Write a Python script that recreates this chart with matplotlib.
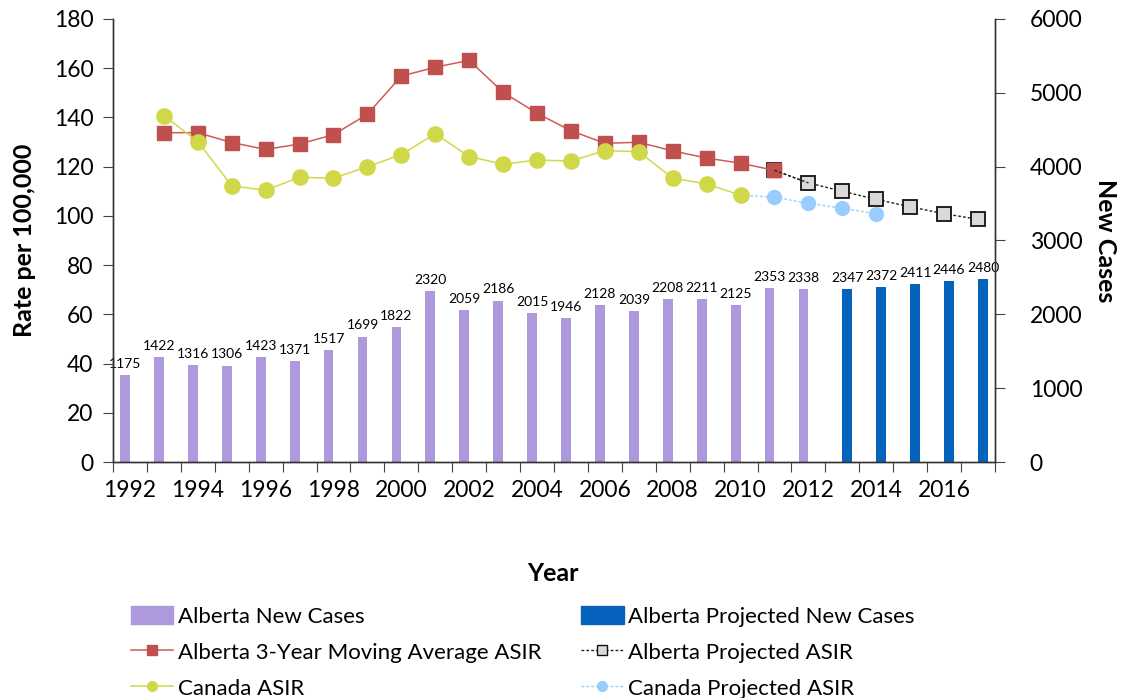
import numpy as np
import matplotlib.pyplot as plt
from matplotlib.lines import Line2D
from matplotlib.patches import Patch

plt.rcParams['font.family'] = ['Lato', 'DejaVu Sans']

years = list(range(1992, 2018))

# new cases (bars)
ab_new_years = list(range(1992, 2013))
ab_new = [1175, 1422, 1316, 1306, 1423, 1371, 1517, 1699, 1822, 2320, 2059,
          2186, 2015, 1946, 2128, 2039, 2208, 2211, 2125, 2353, 2338]
ab_proj_new_years = list(range(2013, 2018))
ab_proj_new = [2347, 2372, 2411, 2446, 2480]

# ASIR lines
ab_ma_years = list(range(1993, 2012))
ab_ma = [133.8, 133.8, 129.8, 127.0, 129.2, 133.0, 141.3, 156.8, 160.4, 163.2,
         150.2, 141.7, 134.6, 129.5, 129.9, 126.4, 123.5, 121.4, 118.5]
ab_proj_years = list(range(2011, 2018))
ab_proj = [118.5, 113.4, 110.0, 106.7, 103.7, 100.9, 98.6]

ca_years = list(range(1993, 2011))
ca_asir = [140.7, 130.2, 112.2, 110.4, 115.7, 115.3, 120.0, 124.9, 133.4,
           124.1, 121.0, 122.7, 122.3, 126.5, 126.1, 115.3, 113.0, 108.4]
ca_proj_years = list(range(2010, 2015))
ca_proj = [108.4, 107.6, 105.1, 103.1, 100.9]

c_purple = '#AD99DB'
c_blue = '#0563BE'
c_red = '#C0504D'
c_yellow = '#D0D84A'
c_lblue = '#99CCFF'
dash = (0, (2, 1.5))

def xpos(yrs):
    return np.array(yrs) - 1992

fig = plt.figure(figsize=(11.21, 6.98), dpi=100)
ax = fig.add_axes([0.1008, 0.3381, 0.7868, 0.6347])
ax2 = ax.twinx()

bw = 0.29
ax2.bar(xpos(ab_new_years) - bw / 2, ab_new, width=bw, color=c_purple, zorder=1)
ax2.bar(xpos(ab_proj_new_years) + bw / 2, ab_proj_new, width=bw, color=c_blue, zorder=1)
for x, v in zip(xpos(ab_new_years) - bw / 2, ab_new):
    ax2.text(x, v + 70, str(v), ha='center', va='bottom', fontsize=10)
for x, v in zip(xpos(ab_proj_new_years) + bw / 2, ab_proj_new):
    ax2.text(x, v + 70, str(v), ha='center', va='bottom', fontsize=10)

ax2.set_ylim(0, 6000)
ax2.set_yticks(range(0, 6001, 1000))

# lines go on the left axis, drawn above the bars
ax.set_zorder(ax2.get_zorder() + 1)
ax.patch.set_visible(False)

ax.plot(xpos(ab_proj_years), ab_proj, color='#222222', lw=1, ls=dash,
        marker='s', ms=10, mfc='#D9D9D9', mec='#111111', mew=1.3)
ax.plot(xpos(ca_proj_years), ca_proj, color=c_lblue, lw=1, ls=dash,
        marker='o', ms=10, mfc=c_lblue, mec=c_lblue,
        markevery=list(range(1, len(ca_proj))))
ax.plot(xpos(ab_ma_years), ab_ma, color='#D05A5A', lw=1.1,
        marker='s', ms=10, mfc=c_red, mec=c_red)
ax.plot(xpos(ca_years), ca_asir, color=c_yellow, lw=1.1,
        marker='o', ms=11, mfc=c_yellow, mec=c_yellow)
# keep the last Alberta marker on top of the projected line
ax.plot(xpos(ab_ma_years[-1:]), ab_ma[-1:], ls='none', marker='s', ms=10,
        mfc=c_red, mec=c_red)
ax.plot(xpos(ab_proj_years[:2]), ab_proj[:2], color='#222222', lw=1, ls=dash)

ax.set_ylim(0, 180)
ax.set_yticks(range(0, 181, 20))
ax.set_xlim(-0.5, 25.5)

# ticks at category boundaries, labels every two years
ax.set_xticks(np.arange(-0.5, 26, 1))
ax.set_xticklabels([])
ax.set_xticks(xpos(years[::2]), minor=True)
ax.set_xticklabels([str(y) for y in years[::2]], minor=True, fontsize=16.5)
ax.tick_params(axis='x', which='major', length=7, direction='out', color='#444444')
ax.tick_params(axis='x', which='minor', length=0, pad=13)
ax.tick_params(axis='y', length=7, labelsize=16.5, color='#444444', pad=7)
ax2.tick_params(axis='y', length=7, labelsize=16.5, color='#444444', pad=18)

for a in (ax, ax2):
    a.spines['top'].set_visible(False)
    for s in ('left', 'right', 'bottom'):
        a.spines[s].set_color('#333333')
        a.spines[s].set_linewidth(1)

fig.text(0.022, 0.6555, 'Rate per 100,000', rotation=90, ha='center', va='center',
         fontsize=18, fontweight='bold')
fig.text(0.986, 0.6555, 'New Cases', rotation=270, ha='center', va='center',
         fontsize=18, fontweight='bold')
fig.text(0.493, 0.179, 'Year', ha='center', va='center', fontsize=18, fontweight='bold')

# legend handles with smaller markers, like the original
handles = [
    Patch(color=c_purple),
    Line2D([], [], color='#D05A5A', lw=1.1, marker='s', ms=7, mfc=c_red, mec=c_red),
    Line2D([], [], color=c_yellow, lw=1.1, marker='o', ms=7, mfc=c_yellow, mec=c_yellow),
    Patch(color=c_blue),
    Line2D([], [], color='#222222', lw=1, ls=dash, marker='s', ms=7, mfc='#D9D9D9',
           mec='#111111', mew=1),
    Line2D([], [], color=c_lblue, lw=1, ls=dash, marker='o', ms=7, mfc=c_lblue, mec=c_lblue),
]
labels = ['Alberta New Cases', 'Alberta 3-Year Moving Average ASIR', 'Canada ASIR',
          'Alberta Projected New Cases', 'Alberta Projected ASIR', 'Canada Projected ASIR']
fig.legend(handles=handles, labels=labels, ncol=2,
           loc='upper left', bbox_to_anchor=(0.117, 0.132), frameon=False,
           fontsize=16, handlelength=1.9, handleheight=0.9, handletextpad=0.2,
           columnspacing=1.8, labelspacing=0.68, borderpad=0, borderaxespad=0)

fig.savefig('out.png', dpi=100)
